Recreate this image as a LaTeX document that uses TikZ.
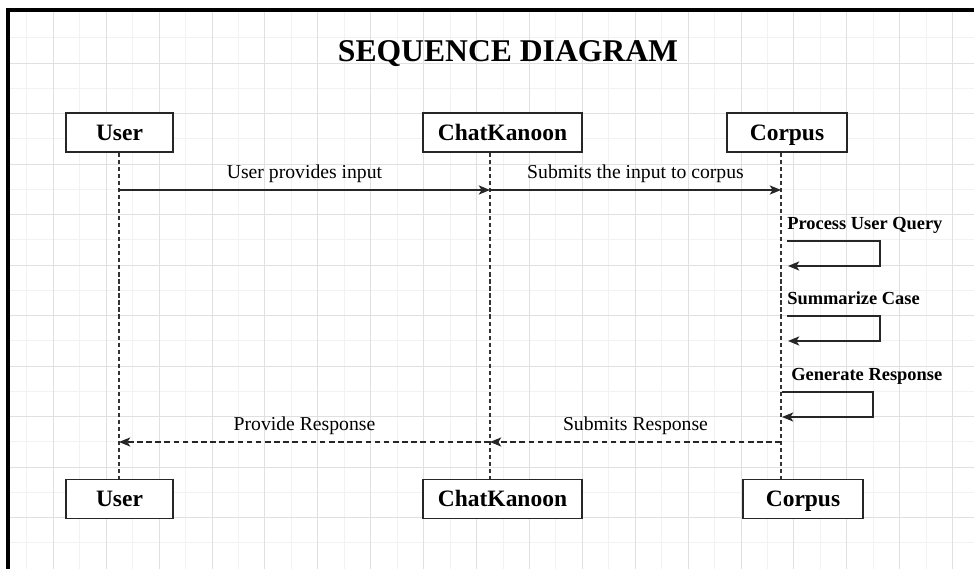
\documentclass[tikz,border=0pt]{standalone}
\usepackage{fontspec}
\setmainfont{Liberation Serif}
\usetikzlibrary{arrows.meta}

\tikzset{
  gridmajor/.style={draw=black!12, line width=0.6pt},
  gridminor/.style={draw=black!5, line width=0.5pt},
  actor/.style={draw=black!85, line width=1.1pt, fill=white, minimum height=0.975cm, inner sep=0pt,
    font=\fontsize{16.7}{20}\selectfont\bfseries, text height=11.3pt, text depth=0pt},
  lifeline/.style={draw=black!80, line width=1pt, dash pattern=on 3pt off 2pt},
  msg/.style={draw=black!85, line width=1pt, -{Stealth[length=8pt,width=6.5pt,inset=2pt]}},
  reply/.style={msg, dash pattern=on 4pt off 2.5pt},
  msglabel/.style={anchor=base, inner sep=0pt, yshift=0.28cm, font=\fontsize{14}{17}\selectfont},
  selflabel/.style={anchor=base west, inner sep=0pt, yshift=0.29cm, font=\fontsize{13.1}{16}\selectfont\bfseries}
}

\begin{document}
\begin{tikzpicture}[x=0.025cm, y=-0.025cm]
 \useasboundingbox (0,0) rectangle (974,569);

 %grid
 \foreach \i in {0,...,17} {
   \draw[gridminor] ({26.8+52.9*\i},10) -- ({26.8+52.9*\i},569);
 }
 \foreach \i in {0,...,10} {
   \draw[gridminor] (8,{37.5+50.5*\i}) -- (974,{37.5+50.5*\i});
 }
 \foreach \i in {0,...,17} {
   \draw[gridmajor] ({53.3+52.9*\i},10) -- ({53.3+52.9*\i},569);
 }
 \foreach \i in {0,...,9} {
   \draw[gridmajor] (8,{63.3+50.5*\i}) -- (974,{63.3+50.5*\i});
 }

 %frame
 \draw[line width=2.2pt] (974,10) -- (8,10) -- (8,569);

 %title
 \node[font=\fontsize{22.5}{27}\selectfont\bfseries, anchor=base, inner sep=0pt] (title) at (508,62) {SEQUENCE DIAGRAM};

 %actors (top)
 \node[actor, minimum width=2.675cm] (user1) at (119.5,132.5) {User};
 \node[actor, minimum width=3.975cm] (chat1) at (502.5,132.5) {ChatKanoon};
 \node[actor, minimum width=3cm] (corpus1) at (787,132.5) {Corpus};

 %actors (bottom)
 \node[actor, minimum width=2.675cm] (user2) at (119.5,499) {User};
 \node[actor, minimum width=3.975cm] (chat2) at (502.5,499) {ChatKanoon};
 \node[actor, minimum width=3cm] (corpus2) at (803,499) {Corpus};

 %lifelines
 \coordinate (uL) at (119,0);
 \coordinate (cL) at (490,0);
 \coordinate (kL) at (781,0);
 \draw[lifeline] (uL |- user1.south) -- (uL |- user2.north);
 \draw[lifeline] (cL |- chat1.south) -- (cL |- chat2.north);
 \draw[lifeline] (kL |- corpus1.south) -- (kL |- corpus2.north);

 %messages
 \coordinate (r1) at (0,190);
 \coordinate (r2) at (0,442);
 \draw[msg] (uL |- r1) -- node[msglabel] (l1) {User provides input} (cL |- r1);
 \draw[msg] (cL |- r1) -- node[msglabel] (l2) {Submits the input to corpus} (kL |- r1);
 \draw[reply] (cL |- r2) -- node[msglabel] (l3) {Provide Response} (uL |- r2);
 \draw[reply] (kL |- r2) -- node[msglabel] (l4) {Submits Response} (cL |- r2);

 %self messages on corpus
 \foreach \y/\r/\s/\e/\lx/\txt in {241/880/787/788/787/Process User Query, 316/880/787/788/787/Summarize Case, 392/873/782/782/791/Generate Response} {
   \coordinate (a\y) at (\s,\y);
   \coordinate (b\y) at ({\e},{\y+25});
   \draw[msg] (a\y) -- (\r,\y) |- (b\y);
   \node[selflabel] (self\y) at (\lx,\y) {\txt};
 }

\end{tikzpicture}
\end{document}
